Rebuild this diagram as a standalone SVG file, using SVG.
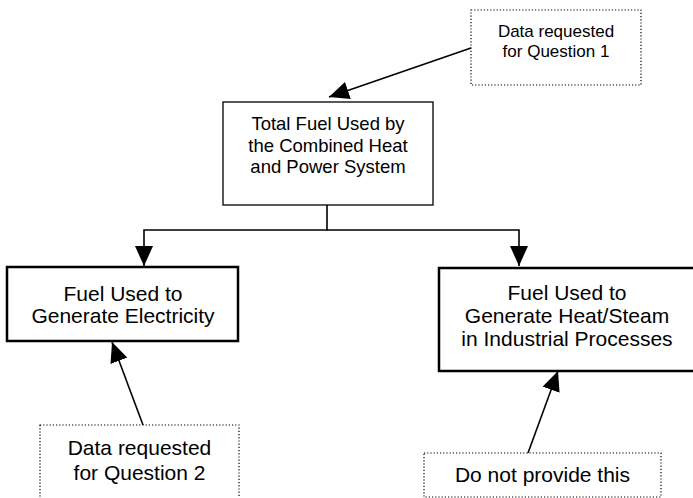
<svg xmlns="http://www.w3.org/2000/svg" width="693" height="498" viewBox="0 0 693 498">
<style>
text{font-family:"Liberation Sans",Arial,sans-serif;fill:#000;text-anchor:middle}
.dot{fill:#fff;stroke:#000;stroke-width:1.2;stroke-dasharray:1.2 2}
.thin{fill:#fff;stroke:#000;stroke-width:1.3}
.thick{fill:#fff;stroke:#000;stroke-width:2.5}
.c{fill:none;stroke:#000;stroke-width:1.6}
</style>
<defs>
<marker id="ah" markerUnits="userSpaceOnUse" markerWidth="20" markerHeight="18" refX="20" refY="9" orient="auto">
<path d="M0,0 L20,9 L0,18 Z" fill="#000"/>
</marker>
</defs>
<rect width="693" height="498" fill="#fff"/>
<g id="connectors">
<path class="c" d="M471,48 L329,97" marker-end="url(#ah)"/>
<path class="c" d="M327,205 V230 H144 V266" marker-end="url(#ah)"/>
<path class="c" d="M327,230 H519 V266" marker-end="url(#ah)"/>
<path class="c" d="M143,425 L112,342" marker-end="url(#ah)"/>
<path class="c" d="M528,453 L558,371" marker-end="url(#ah)"/>
</g>
<g id="q1">
<rect class="dot" x="471" y="10" width="170" height="75"/>
<text x="556" y="37" font-size="17">Data requested</text>
<text x="556" y="57" font-size="17">for Question 1</text>
</g>
<g id="total">
<rect class="thin" x="223" y="102" width="210" height="103"/>
<text x="328" y="130" font-size="18.5">Total Fuel Used by</text>
<text x="328" y="152" font-size="18.5">the Combined Heat</text>
<text x="328" y="173" font-size="18.5">and Power System</text>
</g>
<g id="electricity">
<rect class="thick" x="7" y="267" width="231" height="74"/>
<text x="123" y="301" font-size="21">Fuel Used to</text>
<text x="123" y="323" font-size="21">Generate Electricity</text>
</g>
<g id="heat">
<rect class="thick" x="439" y="268" width="258" height="103"/>
<text x="567" y="300" font-size="21">Fuel Used to</text>
<text x="567" y="323" font-size="21">Generate Heat/Steam</text>
<text x="567" y="346" font-size="21">in Industrial Processes</text>
</g>
<g id="q2">
<rect class="dot" x="40" y="425" width="199" height="80"/>
<text x="139.5" y="455" font-size="21">Data requested</text>
<text x="139.5" y="480" font-size="21">for Question 2</text>
</g>
<g id="noprovide">
<rect class="dot" x="424" y="453" width="237" height="44"/>
<text x="542.5" y="482" font-size="21">Do not provide this</text>
</g>
</svg>
